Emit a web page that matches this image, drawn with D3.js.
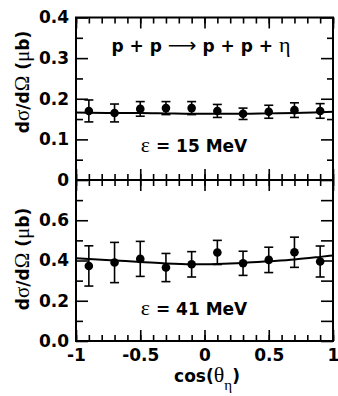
<!DOCTYPE html>
<html>
<head>
<meta charset="utf-8">
<script src="https://d3js.org/d3.v7.min.js"></script>
<style>
body { margin: 0; background: #fff; }
text { font-family: "DejaVu Sans", sans-serif; font-weight: bold; fill: #000; }
.sym { font-family: "Liberation Serif", "DejaVu Serif", serif; font-weight: normal; }
</style>
</head>
<body>
<svg id="chart" width="338" height="396"></svg>
<script>
// measured points, cos(theta_eta)
const cosTheta = [-0.9, -0.7, -0.5, -0.3, -0.1, 0.1, 0.3, 0.5, 0.7, 0.9];
const xsec15 = [0.170, 0.165, 0.175, 0.177, 0.177, 0.170, 0.163, 0.168, 0.172, 0.170];
const err15  = [0.027, 0.022, 0.018, 0.016, 0.016, 0.016, 0.014, 0.016, 0.018, 0.018];
const xsec41 = [0.373, 0.390, 0.408, 0.365, 0.381, 0.440, 0.386, 0.403, 0.441, 0.395];
const err41  = [0.100, 0.100, 0.087, 0.070, 0.063, 0.060, 0.060, 0.063, 0.075, 0.077];
// fitted curves
const fitCos = [-1, -0.7, -0.5, -0.3, -0.1, 0.1, 0.3, 0.5, 0.7, 0.9, 1];
const fit15  = [0.166, 0.165, 0.165, 0.164, 0.163, 0.163, 0.163, 0.164, 0.165, 0.167, 0.168];
const fit41  = [0.411, 0.400, 0.393, 0.385, 0.381, 0.383, 0.388, 0.396, 0.405, 0.418, 0.425];
// tick labels
const xTicks = [-1, -0.5, 0, 0.5, 1];
const yTicksTop = [0, 0.1, 0.2, 0.3, 0.4];
const yTicksBot = [0, 0.2, 0.4, 0.6];

const svg = d3.select("#chart");
const left = 76, right = 333;
const x = d3.scaleLinear().domain([-1, 1]).range([left, right]);
const yTop = d3.scaleLinear().domain([0, 0.4]).range([180, 17.5]);
const yBot = d3.scaleLinear().domain([0, 0.8]).range([341, 180]);

const xMinor = d3.range(-10, 11).map(d => d / 10);
const fmtTop = d => d === 0 ? "0" : d3.format(".1f")(d);
const fmtBot = d3.format(".1f");

function panel(y, yMajor, yMinor, fmtY, showX, rightMinor) {
  const g = svg.append("g");
  const [y0, y1] = y.range();

  // y ticks left
  g.append("g").attr("transform", `translate(${left},0)`)
    .call(d3.axisLeft(y).tickValues(yMinor).tickSize(-7).tickFormat(""));
  g.append("g").attr("transform", `translate(${left},0)`)
    .call(d3.axisLeft(y).tickValues(yMajor).tickSize(-12).tickPadding(7).tickFormat(fmtY));
  // y ticks right
  g.append("g").attr("transform", `translate(${right},0)`)
    .call(d3.axisRight(y).tickValues(yMinor).tickSize(-rightMinor).tickFormat(""));
  g.append("g").attr("transform", `translate(${right},0)`)
    .call(d3.axisRight(y).tickValues(yMajor).tickSize(-12).tickFormat(""));
  // x ticks bottom and top
  g.append("g").attr("transform", `translate(0,${y0})`)
    .call(d3.axisBottom(x).tickValues(xMinor).tickSize(-6).tickFormat(""));
  g.append("g").attr("transform", `translate(0,${y0})`)
    .call(d3.axisBottom(x).tickValues(xTicks).tickSize(-11).tickPadding(8)
      .tickFormat(showX ? d => String(d) : ""));
  g.append("g").attr("transform", `translate(0,${y1})`)
    .call(d3.axisTop(x).tickValues(xMinor).tickSize(-6).tickFormat(""));
  g.append("g").attr("transform", `translate(0,${y1})`)
    .call(d3.axisTop(x).tickValues(xTicks).tickSize(-11).tickFormat(""));

  g.selectAll(".domain").remove();
  g.selectAll(".tick line").attr("stroke", "#000").attr("stroke-width", 1.6);
  g.selectAll(".tick text").style("font-size", "17px").attr("fill", "#000");

  g.append("rect").attr("x", left).attr("y", y1)
    .attr("width", right - left).attr("height", y0 - y1)
    .attr("fill", "none").attr("stroke", "#000").attr("stroke-width", 2);
  return g;
}

function series(g, y, vals, errs, fit) {
  g.append("path").datum(fitCos.map((c, i) => [c, fit[i]]))
    .attr("d", d3.line().x(d => x(d[0])).y(d => y(d[1])).curve(d3.curveMonotoneX))
    .attr("fill", "none").attr("stroke", "#000").attr("stroke-width", 2);
  const pts = g.append("g").selectAll("g").data(cosTheta).join("g");
  pts.append("line")
    .attr("x1", c => x(c)).attr("x2", c => x(c))
    .attr("y1", (c, i) => y(vals[i] - errs[i])).attr("y2", (c, i) => y(vals[i] + errs[i]))
    .attr("stroke", "#000").attr("stroke-width", 1.6);
  [-1, 1].forEach(s => {
    pts.append("line")
      .attr("x1", c => x(c) - 4.5).attr("x2", c => x(c) + 4.5)
      .attr("y1", (c, i) => y(vals[i] + s * errs[i])).attr("y2", (c, i) => y(vals[i] + s * errs[i]))
      .attr("stroke", "#000").attr("stroke-width", 1.6);
  });
  pts.append("circle").attr("cx", c => x(c)).attr("cy", (c, i) => y(vals[i]))
    .attr("r", 4.3).attr("fill", "#000");
}

const gTop = panel(yTop, yTicksTop, d3.range(1, 8, 2).map(d => d * 0.05), fmtTop, false, 6);
series(gTop, yTop, xsec15, err15, fit15);
const gBot = panel(yBot, yTicksBot, d3.range(1, 8, 2).map(d => d * 0.1), fmtBot, true, 12);
series(gBot, yBot, xsec41, err41, fit41);

// y titles
[82, 259].forEach(cy => {
  const t = svg.append("text").attr("transform", `translate(29,${cy}) rotate(-90)`)
    .attr("text-anchor", "middle").style("font-size", "17px");
  t.append("tspan").text("d");
  t.append("tspan").attr("class", "sym").style("font-size", "21px").text("σ");
  t.append("tspan").text("/d");
  t.append("tspan").attr("class", "sym").style("font-size", "21px").text("Ω");
  t.append("tspan").text(" (");
  t.append("tspan").attr("class", "sym").style("font-size", "21px").text("μ");
  t.append("tspan").text("b)");
});

// reaction
const r = svg.append("text").attr("x", 201).attr("y", 52).attr("text-anchor", "middle")
  .style("font-size", "17px");
r.append("tspan").text("p + p ");
r.append("tspan").style("font-weight", "normal").style("font-size", "20px").text("⟶");
r.append("tspan").text(" p + p + ");
r.append("tspan").attr("class", "sym").style("font-size", "22px").text("η");

// energies
[["15 MeV", 152], ["41 MeV", 315]].forEach(([lab, by]) => {
  const t = svg.append("text").attr("x", 194).attr("y", by).attr("text-anchor", "middle")
    .style("font-size", "17px");
  t.append("tspan").attr("class", "sym").style("font-size", "22px").text("ε");
  t.append("tspan").text(" = " + lab);
});

// x title
const xt = svg.append("text").attr("x", 207).attr("y", 382).attr("text-anchor", "middle")
  .style("font-size", "17px");
xt.append("tspan").text("cos(");
xt.append("tspan").attr("class", "sym").style("font-size", "22px").text("θ");
xt.append("tspan").attr("class", "sym").style("font-size", "15px").attr("dy", 8).text("η");
xt.append("tspan").attr("dy", -8).text(")");
</script>
</body>
</html>
